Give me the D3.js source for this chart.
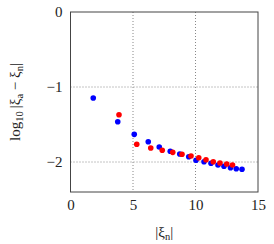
<!DOCTYPE html>
<html>
<head>
<meta charset="utf-8">
<script src="https://cdn.jsdelivr.net/npm/d3@7"></script>
<style>
  body { margin: 0; background: #fff; }
  text { font-family: "Liberation Serif", "DejaVu Serif", serif; fill: #222; }
</style>
</head>
<body>
<div id="chart"></div>
<script>
var svgWidth = 274;
var svgHeight = 244;
var margin = { top: 12, right: 16, bottom: 52, left: 70.5 };
var width = 258 - margin.left;
var height = 192 - margin.top;

// blue series
var blueX = [1.82, 3.78, 5.10, 6.22, 7.10, 7.98, 8.74, 9.46, 10.04, 10.68, 11.24, 11.80, 12.28, 12.80, 13.26, 13.72];
var blueY = [-1.147, -1.463, -1.631, -1.729, -1.80, -1.857, -1.893, -1.929, -1.977, -1.996, -2.017, -2.04, -2.057, -2.076, -2.089, -2.097];
// red series
var redX = [3.88, 5.30, 6.42, 7.34, 8.18, 8.92, 9.64, 10.26, 10.84, 11.42, 11.96, 12.50, 12.96];
var redY = [-1.369, -1.764, -1.813, -1.843, -1.871, -1.897, -1.92, -1.943, -1.969, -1.996, -2.013, -2.027, -2.04];

var xTicks = [0, 5, 10, 15];
var yTicks = [0, -1, -2];

var svg = d3.select("#chart")
  .append("svg")
  .attr("width", svgWidth)
  .attr("height", svgHeight);
var chart = svg.append("g")
  .attr("transform", `translate(${margin.left}, ${margin.top})`);

var scaleX = d3.scaleLinear().domain([0, 15]).range([0, width]);
var scaleY = d3.scaleLinear().domain([-2.4, 0]).range([height, 0]);

// dotted grid
chart.selectAll(".gx")
  .data([5, 10])
  .enter().append("line")
  .attr("x1", d => scaleX(d)).attr("x2", d => scaleX(d))
  .attr("y1", 0).attr("y2", height)
  .attr("stroke", "#888").attr("stroke-width", 1)
  .attr("stroke-dasharray", "1,2");
chart.selectAll(".gy")
  .data([-1, -2])
  .enter().append("line")
  .attr("y1", d => scaleY(d)).attr("y2", d => scaleY(d))
  .attr("x1", 0).attr("x2", width)
  .attr("stroke", "#888").attr("stroke-width", 1)
  .attr("stroke-dasharray", "1,2");

// axes: labels only
var xaxis = d3.axisBottom(scaleX).tickValues(xTicks).tickSize(0).tickPadding(7);
var yaxis = d3.axisLeft(scaleY).tickValues(yTicks).tickSize(0).tickPadding(8)
  .tickFormat(d => d < 0 ? "\u2212" + Math.abs(d) : d);
var chartBottom = chart.append("g")
  .attr("transform", `translate(0, ${height})`)
  .call(xaxis);
var chartLeft = chart.append("g").call(yaxis);
chart.selectAll(".domain").remove();
chart.selectAll(".tick text")
  .style("font-family", '"Liberation Serif", "DejaVu Serif", serif')
  .style("font-size", "15px")
  .attr("fill", "#222");

// frame
chart.append("rect")
  .attr("width", width).attr("height", height)
  .attr("fill", "none").attr("stroke", "#444").attr("stroke-width", 1);

// points
var blue = blueX.map((x, i) => ({ x: x, y: blueY[i] }));
var red = redX.map((x, i) => ({ x: x, y: redY[i] }));
chart.selectAll(".blue")
  .data(blue).enter().append("circle")
  .attr("cx", d => scaleX(d.x)).attr("cy", d => scaleY(d.y))
  .attr("r", 2.8).attr("fill", "#0000ff");
chart.selectAll(".red")
  .data(red).enter().append("circle")
  .attr("cx", d => scaleX(d.x)).attr("cy", d => scaleY(d.y))
  .attr("r", 2.8).attr("fill", "#ff0000");

// x label
var xl = svg.append("text")
  .attr("x", margin.left + width / 2)
  .attr("y", 237)
  .attr("text-anchor", "middle")
  .style("font-size", "15px");
xl.append("tspan").text("|\u03BE");
xl.append("tspan").attr("font-size", "10.5px").attr("dy", 3).text("n");
xl.append("tspan").attr("dy", -3).text("|");

// y label
var yl = svg.append("text")
  .attr("transform", `translate(20, ${margin.top + height / 2}) rotate(-90)`)
  .attr("text-anchor", "middle")
  .style("font-size", "15px");
yl.append("tspan").text("log");
yl.append("tspan").attr("font-size", "10.5px").attr("dy", 3).text("10");
yl.append("tspan").attr("dy", -3).text("\u2009|\u03BE");
yl.append("tspan").attr("font-size", "10.5px").attr("dy", 3).text("a");
yl.append("tspan").attr("dy", -3).text(" \u2212 \u03BE");
yl.append("tspan").attr("font-size", "10.5px").attr("dy", 3).text("n");
yl.append("tspan").attr("dy", -3).text("|");
</script>
</body>
</html>
